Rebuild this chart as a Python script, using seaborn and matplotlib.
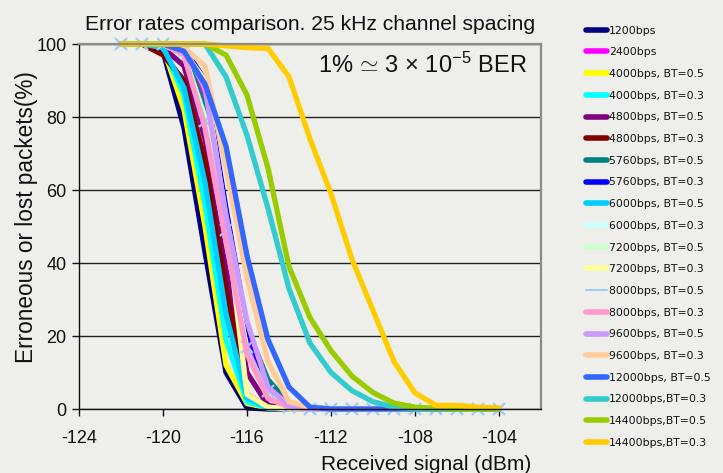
import matplotlib
matplotlib.use("Agg")
import matplotlib.pyplot as plt
import seaborn as sns
import pandas as pd
from matplotlib.lines import Line2D

# ---------------- data ----------------
signal_dbm = [-122, -121, -120, -119, -118, -117, -116, -115, -114, -113,
              -112, -111, -110, -109, -108, -107, -106, -105, -104]

series_labels = ["1200bps", "2400bps", "4000bps, BT=0.5", "4000bps, BT=0.3",
                 "4800bps, BT=0.5", "4800bps, BT=0.3", "5760bps, BT=0.5",
                 "5760bps, BT=0.3", "6000bps, BT=0.5", "6000bps, BT=0.3",
                 "7200bps, BT=0.5", "7200bps, BT=0.3", "8000bps, BT=0.5",
                 "8000bps, BT=0.3", "9600bps, BT=0.5", "9600bps, BT=0.3",
                 "12000bps, BT=0.5", "12000bps,BT=0.3", "14400bps,BT=0.5",
                 "14400bps,BT=0.3"]

series_colors = ["#000080", "#FF00FF", "#FFFF00", "#00FFFF", "#800080", "#800000",
                 "#008080", "#0000FF", "#00CCFF", "#CCFFFF", "#CCFFCC", "#FFFF99",
                 "#99CCFF", "#FF99CC", "#CC99FF", "#FFCC99", "#3366FF", "#33CCCC",
                 "#99CC00", "#FFCC00"]

loss_1200 = [100, 100, 98, 77, 43, 10, 0.3, 0, 0, 0, 0, 0, 0, 0, 0, 0, 0, 0, 0]
loss_2400 = [100, 100, 100, 98, 84, 54, 20, 5, 1, 0, 0, 0, 0, 0, 0, 0, 0, 0, 0]
loss_4000_bt05 = [100, 100, 99, 82, 50, 12, 1.5, 0.3, 0, 0, 0, 0, 0, 0, 0, 0, 0, 0, 0]
loss_4000_bt03 = [100, 100, 99, 86, 56, 19, 2, 0.3, 0, 0, 0, 0, 0, 0, 0, 0, 0, 0, 0]
loss_4800_bt05 = [100, 100, 99, 94, 74, 40, 10, 1, 0, 0, 0, 0, 0, 0, 0, 0, 0, 0, 0]
loss_4800_bt03 = [100, 100, 97, 90, 68, 33, 4, 0.5, 0, 0, 0, 0, 0, 0, 0, 0, 0, 0, 0]
loss_5760_bt05 = [100, 100, 100, 98, 82, 52, 22, 8, 1.5, 0.3, 0, 0, 0, 0, 0, 0, 0, 0, 0]
loss_5760_bt03 = [100, 100, 100, 99, 90, 55, 22, 6, 1, 0, 0, 0, 0, 0, 0, 0, 0, 0, 0]
loss_6000_bt05 = [100, 100, 99, 88, 62, 26, 3, 0.5, 0, 0, 0, 0, 0, 0, 0, 0, 0, 0, 0]
loss_6000_bt03 = [100, 100, 100, 97, 78, 46, 16, 3, 0.5, 0, 0, 0, 0, 0, 0, 0, 0, 0, 0]
loss_7200_bt05 = [100, 100, 100, 97, 80, 48, 16, 4, 0.5, 0, 0, 0, 0, 0, 0, 0, 0, 0, 0]
loss_7200_bt03 = [100, 100, 100, 98, 90, 52, 4, 0.5, 0, 0, 0, 0, 0, 0, 0, 0, 0, 0, 0]
loss_8000_bt05 = [100, 100, 100, 98, 79, 49, 17, 5, 0.5, 0, 0, 0, 0, 0, 0, 0, 0, 0, 0]
loss_8000_bt03 = [100, 100, 100, 97, 77, 46, 15, 3, 0.5, 0, 0, 0, 0, 0, 0, 0, 0, 0, 0]
loss_9600_bt05 = [100, 100, 100, 99, 88, 53, 24, 6, 1, 0, 0, 0, 0, 0, 0, 0, 0, 0, 0]
loss_9600_bt03 = [100, 100, 100, 99, 94, 66, 36, 13, 2, 0.5, 0, 0, 0, 0, 0, 0, 0, 0, 0]
loss_12000_bt05 = [100, 100, 100, 98, 89, 72, 42, 19, 6, 0.5, 0, 0, 0, 0, 0, 0, 0, 0, 0]
loss_12000_bt03 = [100, 100, 100, 100, 100, 91, 75, 55, 33, 18, 10, 5, 2, 0.5, 0, 0, 0, 0, 0]
loss_14400_bt05 = [100, 100, 100, 100, 100, 97, 86, 66, 39, 25, 16, 9, 4.5, 1.6, 0.5, 0.2, 0, 0, 0]
loss_14400_bt03 = [100, 100, 100, 100, 100, 99.5, 99, 98.8, 91, 74, 59, 41, 27, 13, 4.4, 1, 1, 0.5, 0.3]

all_losses = [loss_1200, loss_2400, loss_4000_bt05, loss_4000_bt03, loss_4800_bt05,
              loss_4800_bt03, loss_5760_bt05, loss_5760_bt03, loss_6000_bt05,
              loss_6000_bt03, loss_7200_bt05, loss_7200_bt03, loss_8000_bt05,
              loss_8000_bt03, loss_9600_bt05, loss_9600_bt03, loss_12000_bt05,
              loss_12000_bt03, loss_14400_bt05, loss_14400_bt03]

x_ticks = [-124, -120, -116, -112, -108, -104]
y_ticks = [0, 20, 40, 60, 80, 100]

# ---------------- style ----------------
sns.set_theme(style="white")
plt.rcParams["font.family"] = ["Liberation Sans", "DejaVu Sans"]
plt.rcParams["mathtext.fontset"] = "custom"
plt.rcParams["mathtext.rm"] = "Liberation Sans"
plt.rcParams["mathtext.it"] = "Liberation Sans:italic"
plt.rcParams["mathtext.bf"] = "Liberation Sans:bold"
plt.rcParams["mathtext.fallback"] = "cm"

bg = "#eeeeeb"
txt = "#111111"

fig = plt.figure(figsize=(7.23, 4.73), dpi=100, facecolor=bg)
ax = fig.add_axes([79 / 723, 64 / 473, 462 / 723, 365 / 473])
ax.set_facecolor(bg)

marked = "8000bps, BT=0.5"
for label, color, vals in zip(series_labels, series_colors, all_losses):
    df = pd.DataFrame({"signal": signal_dbm, "loss": vals})
    if label == marked:
        sns.lineplot(data=df, x="signal", y="loss", ax=ax, color=color,
                     linewidth=1.4, marker="x", markersize=8, markeredgewidth=1.6,
                     markeredgecolor=color, clip_on=False, sort=False)
    else:
        sns.lineplot(data=df, x="signal", y="loss", ax=ax, color=color,
                     linewidth=3.8, solid_joinstyle="round", solid_capstyle="round",
                     clip_on=False, sort=False)

ax.set_xlim(-124, -102)
ax.set_ylim(0, 100)
ax.set_xticks(x_ticks)
ax.set_yticks(y_ticks)
ax.set_xticklabels([str(v) for v in x_ticks])
ax.yaxis.grid(True, color="#222222", linewidth=1.0)
ax.xaxis.grid(False)
ax.set_axisbelow(True)

for side in ("left", "bottom"):
    ax.spines[side].set_color("#111111")
    ax.spines[side].set_linewidth(1.0)
for side in ("top", "right"):
    ax.spines[side].set_color("#8a8a8a")
    ax.spines[side].set_linewidth(1.6)

ax.tick_params(axis="both", which="major", direction="out", length=5, width=1,
               color="#111111", labelsize=13, labelcolor=txt,
               bottom=True, left=True, pad=4)
ax.tick_params(axis="x", pad=10)

ax.set_xlabel("Received signal (dBm)", fontsize=15, color=txt)
ax.xaxis.set_label_coords(0.752, -0.125)
ax.set_ylabel("Erroneous or lost packets(%)", fontsize=16.3, color=txt)
ax.yaxis.set_label_coords(-0.088, 0.525)

ax.set_title("Error rates comparison. 25 kHz channel spacing", fontsize=15.2,
             color=txt, pad=10)

ax.text(0.970, 0.942, r"1% $\!\simeq\!$ 3 × 10$^{-5}$ BER", transform=ax.transAxes,
        ha="right", va="center", fontsize=17, color=txt)

handles = []
for label, color in zip(series_labels, series_colors):
    lw = 1.4 if label == marked else 4.0
    handles.append(Line2D([0], [0], color=color, linewidth=lw))

fig.legend(handles, series_labels, loc="upper left", bbox_to_anchor=(0.810, 0.946),
           frameon=False, prop={"family": "DejaVu Sans", "size": 7.8},
           handlelength=2.0, handletextpad=0.15,
           labelspacing=1.08, borderpad=0, borderaxespad=0, labelcolor=txt)

fig.savefig("out.png", dpi=100, facecolor=bg)
